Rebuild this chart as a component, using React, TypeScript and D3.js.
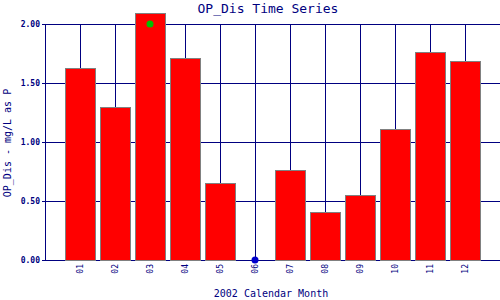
import React from "react";
import * as d3 from "d3";

const months = ["01", "02", "03", "04", "05", "06", "07", "08", "09", "10", "11", "12"];
const values: (number | null)[] = [1.62, 1.29, 2.09, 1.71, 0.65, null, 0.76, 0.4, 0.55, 1.11, 1.76, 1.68];
const yTicks = [0, 0.5, 1.0, 1.5, 2.0];
const greenPoints = [{ month: 3, value: 2.0 }];
const bluePoints = [{ month: 6, value: 0 }];

const W = 500, H = 300;
const L = 45, R = 500, T = 24, B = 260;
const NAVY = "#000080";
const FONT = "'DejaVu Sans Mono', monospace";

export default function App() {
  const x = d3.scaleLinear().domain([0, 13]).range([L, R]);
  const y = d3.scaleLinear().domain([0, 2]).range([B, T]);
  const bw = 30;
  return (
    <svg width={W} height={H} style={{ position: "absolute", left: 0, top: 0, background: "#fff" }}>
      <rect x={0} y={0} width={W} height={H} fill="#fff" />
      {yTicks.map((t) => (
        <g key={t}>
          <line x1={L - 3} x2={R} y1={y(t)} y2={y(t)} stroke={NAVY} strokeWidth={1} shapeRendering="crispEdges" />
          <text x={L - 5} y={y(t) + 3} textAnchor="end" fontFamily={FONT} fontSize={8} fontWeight="bold" fill={NAVY}>
            {t.toFixed(2)}
          </text>
        </g>
      ))}
      <line x1={L} x2={L} y1={T} y2={B} stroke={NAVY} shapeRendering="crispEdges" />
      {months.map((m, i) => (
        <line key={m} x1={x(i + 1)} x2={x(i + 1)} y1={T} y2={B} stroke={NAVY} shapeRendering="crispEdges" />
      ))}
      {values.map((v, i) =>
        v == null || v === 0 ? null : (
          <rect
            key={i}
            x={x(i + 1) - bw / 2}
            y={y(v)}
            width={bw}
            height={y(0) - y(v)}
            fill="#ff0000"
            stroke="#808080"
            strokeWidth={1}
            shapeRendering="crispEdges"
          />
        )
      )}
      {months.map((m, i) => (
        <text
          key={m}
          transform={`translate(${x(i + 1) + 3},${B + 4}) rotate(-90)`}
          textAnchor="end"
          fontFamily={FONT}
          fontSize={8}
          fill={NAVY}
        >
          {m}
        </text>
      ))}
      {greenPoints.map((p, i) => (
        <circle key={i} cx={x(p.month)} cy={y(p.value)} r={3.5} fill="#00c000" />
      ))}
      {bluePoints.map((p, i) => (
        <circle key={i} cx={x(p.month)} cy={y(p.value)} r={3.5} fill="#0000cc" />
      ))}
      <text x={268} y={13} textAnchor="middle" fontFamily={FONT} fontSize={13} fill={NAVY}>
        OP_Dis Time Series
      </text>
      <text x={271} y={297} textAnchor="middle" fontFamily={FONT} fontSize={10} fill={NAVY}>
        2002 Calendar Month
      </text>
      <text
        transform={`translate(11,143) rotate(-90)`}
        textAnchor="middle"
        fontFamily={FONT}
        fontSize={10}
        fill={NAVY}
      >
        OP_Dis - mg/L as P
      </text>
    </svg>
  );
}
